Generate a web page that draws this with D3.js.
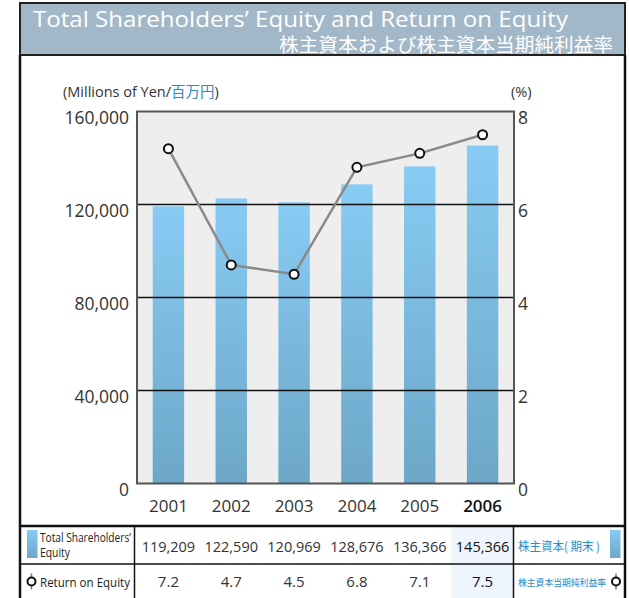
<!DOCTYPE html>
<html>
<head>
<meta charset="utf-8">
<script src="https://cdn.jsdelivr.net/npm/d3@7"></script>
<style>
  body { margin: 0; background: #fff; }
  text { font-family: "Open Sans", "Noto Sans", sans-serif; }
</style>
</head>
<body>
<svg id="chart" width="629" height="598"></svg>
<script>
const years = ["2001", "2002", "2003", "2004", "2005", "2006"];
const equity = [119209, 122590, 120969, 128676, 136366, 145366];
const roe = [7.2, 4.7, 4.5, 6.8, 7.1, 7.5];
const leftTicks = [0, 40000, 80000, 120000, 160000];
const rightTicks = [0, 2, 4, 6, 8];

const svg = d3.select("#chart");
const CJK = "'Noto Sans CJK JP', 'Noto Sans', sans-serif";
const BLUE_TEXT = "#2b8bc6";

// gradient for the bars and the legend swatches
const defs = svg.append("defs");
const grad = defs.append("linearGradient").attr("id", "barGrad")
    .attr("x1", 0).attr("y1", 0).attr("x2", 0).attr("y2", 1);
grad.append("stop").attr("offset", "0%").attr("stop-color", "#88cbf3");
grad.append("stop").attr("offset", "100%").attr("stop-color", "#6ca7c8");

// title band
svg.append("rect").attr("x", 20).attr("y", 3).attr("width", 605).attr("height", 52)
    .attr("fill", "#a2b8c8").attr("stroke", "#222").attr("stroke-width", 2);
svg.append("text").attr("x", 33).attr("y", 27)
    .attr("fill", "#fff").attr("font-size", 22)
    .attr("textLength", 535).attr("lengthAdjust", "spacingAndGlyphs")
    .text("Total Shareholders\u2019 Equity and Return on Equity");
svg.append("text").attr("x", 613).attr("y", 51.5).attr("text-anchor", "end")
    .attr("fill", "#fff").attr("font-size", 19).style("font-family", CJK)
    .attr("textLength", 334).attr("lengthAdjust", "spacingAndGlyphs")
    .text("株主資本および株主資本当期純利益率");

// outer frame
svg.append("line").attr("x1", 20).attr("x2", 20).attr("y1", 55).attr("y2", 598).attr("stroke", "#111").attr("stroke-width", 2.5);
svg.append("line").attr("x1", 625).attr("x2", 625).attr("y1", 55).attr("y2", 598).attr("stroke", "#111").attr("stroke-width", 2.5);

// scales
const x = d3.scaleBand().domain(years).range([137, 514]).paddingInner(0.5).paddingOuter(0.25);
const y = d3.scaleLinear().domain([0, 160000]).range([483.5, 111.5]);
const yR = d3.scaleLinear().domain([0, 8]).range([483.5, 111.5]);
const cx = d => x(d) + x.bandwidth() / 2;

// plot background
svg.append("rect").attr("x", 137).attr("y", 111.5).attr("width", 377).attr("height", 372)
    .attr("fill", "#eeeeee");

// bars
svg.append("g").selectAll("rect").data(years).join("rect")
    .attr("x", d => x(d))
    .attr("width", x.bandwidth())
    .attr("y", (d, i) => y(equity[i]))
    .attr("height", (d, i) => y(0) - y(equity[i]))
    .attr("fill", "url(#barGrad)");

// gridlines
svg.append("g").selectAll("line").data(leftTicks.slice(1, -1)).join("line")
    .attr("x1", 137).attr("x2", 514)
    .attr("y1", d => y(d)).attr("y2", d => y(d))
    .attr("stroke", "#111").attr("stroke-width", 1.5);

// plot border
svg.append("rect").attr("x", 137).attr("y", 111.5).attr("width", 377).attr("height", 372)
    .attr("fill", "none").attr("stroke", "#555").attr("stroke-width", 2);

// left axis (labels hang just below their gridline, like the original)
const leftAxis = svg.append("g").attr("transform", "translate(137,0)")
    .call(d3.axisLeft(y).tickValues(leftTicks).tickSize(0).tickPadding(8).tickFormat(d3.format(",")));
leftAxis.select(".domain").remove();
leftAxis.selectAll("text").attr("font-size", 17.5).attr("fill", "#333").attr("dy", "0.69em")
    .style("font-family", "'Open Sans', sans-serif");

// right axis
const rightAxis = svg.append("g").attr("transform", "translate(514,0)")
    .call(d3.axisRight(yR).tickValues(rightTicks).tickSize(0).tickPadding(4).tickFormat(d3.format("d")));
rightAxis.select(".domain").remove();
rightAxis.selectAll("text").attr("font-size", 17.5).attr("fill", "#333").attr("dy", "0.69em")
    .style("font-family", "'Open Sans', sans-serif");

// x axis labels
const xAxis = svg.append("g").attr("transform", "translate(0,483.5)")
    .call(d3.axisBottom(x).tickSize(0).tickPadding(16));
xAxis.select(".domain").remove();
xAxis.selectAll("text").attr("font-size", 17).attr("fill", "#333")
    .style("font-family", "'Open Sans', sans-serif")
    .attr("font-weight", d => d === "2006" ? 600 : null)
    .attr("fill", d => d === "2006" ? "#111" : "#333");

// unit labels
const unit = svg.append("text").attr("x", 63).attr("y", 96.5).attr("font-size", 14.5).attr("fill", "#333");
unit.append("tspan").text("(Millions of Yen/");
unit.append("tspan").attr("fill", BLUE_TEXT).style("font-family", CJK).text("百万円");
unit.append("tspan").text(")");
svg.append("text").attr("x", 511).attr("y", 96.5).attr("font-size", 14.5).attr("fill", "#333").text("(%)");

// ROE line
const line = d3.line().x((d, i) => cx(years[i])).y(d => yR(d));
svg.append("path").datum(roe).attr("d", line)
    .attr("fill", "none").attr("stroke", "#8a8a8a").attr("stroke-width", 2.5);
svg.append("g").selectAll("circle").data(roe).join("circle")
    .attr("cx", (d, i) => cx(years[i])).attr("cy", d => yR(d)).attr("r", 4.5)
    .attr("fill", "#fff").attr("stroke", "#111").attr("stroke-width", 2);

// table
const tTop = 526, tMid = 564, tBot = 598;
const hiX = x("2006") - x.step() * 0.25;
svg.append("rect").attr("x", hiX).attr("y", tTop).attr("width", 513.5 - hiX).attr("height", tBot - tTop)
    .attr("fill", "#eef5fc");
svg.append("line").attr("x1", 20).attr("x2", 625).attr("y1", tTop).attr("y2", tTop).attr("stroke", "#111").attr("stroke-width", 2.5);
svg.append("line").attr("x1", 20).attr("x2", 625).attr("y1", tMid).attr("y2", tMid).attr("stroke", "#111").attr("stroke-width", 1.5);
svg.append("line").attr("x1", 134.5).attr("x2", 134.5).attr("y1", tTop).attr("y2", tBot).attr("stroke", "#111").attr("stroke-width", 1.5);
svg.append("line").attr("x1", 513.5).attr("x2", 513.5).attr("y1", tTop).attr("y2", tBot).attr("stroke", "#111").attr("stroke-width", 1.5);

// legend row 1
svg.append("rect").attr("x", 27).attr("y", 530).attr("width", 10.5).attr("height", 28).attr("fill", "url(#barGrad)");
svg.append("text").attr("x", 40).attr("y", 541.5).attr("font-size", 12).attr("fill", "#222")
    .attr("textLength", 91).attr("lengthAdjust", "spacingAndGlyphs").text("Total Shareholders\u2019");
svg.append("text").attr("x", 40).attr("y", 557).attr("font-size", 12).attr("fill", "#222")
    .attr("textLength", 30).attr("lengthAdjust", "spacingAndGlyphs").text("Equity");
svg.append("rect").attr("x", 610).attr("y", 530).attr("width", 10.5).attr("height", 28).attr("fill", "url(#barGrad)");
svg.append("text").attr("x", 518).attr("y", 551).attr("font-size", 12.5).attr("fill", BLUE_TEXT)
    .style("font-family", CJK).attr("textLength", 82).attr("lengthAdjust", "spacingAndGlyphs").text("株主資本( 期末 )");

// legend row 2
function marker(mx, my) {
    svg.append("line").attr("x1", mx).attr("x2", mx).attr("y1", my - 8).attr("y2", my + 8)
        .attr("stroke", "#777").attr("stroke-width", 1.5);
    svg.append("circle").attr("cx", mx).attr("cy", my).attr("r", 4)
        .attr("fill", "#fff").attr("stroke", "#111").attr("stroke-width", 2);
}
marker(31.5, 581.5);
marker(616, 581.5);
svg.append("text").attr("x", 40).attr("y", 587).attr("font-size", 13).attr("fill", "#222")
    .attr("textLength", 90).attr("lengthAdjust", "spacingAndGlyphs").text("Return on Equity");
svg.append("text").attr("x", 518).attr("y", 586).attr("font-size", 9.5).attr("fill", BLUE_TEXT)
    .style("font-family", CJK).attr("textLength", 88).attr("lengthAdjust", "spacingAndGlyphs").text("株主資本当期純利益率");

// table values
svg.append("g").selectAll("text").data(equity).join("text")
    .attr("x", (d, i) => cx(years[i])).attr("y", 551.5).attr("text-anchor", "middle")
    .attr("font-size", 14.5).attr("fill", (d, i) => i === 5 ? "#111" : "#333")
    .text(d => d3.format(",")(d));
svg.append("g").selectAll("text").data(roe).join("text")
    .attr("x", (d, i) => cx(years[i])).attr("y", 587).attr("text-anchor", "middle")
    .attr("font-size", 15).attr("fill", (d, i) => i === 5 ? "#111" : "#333")
    .text(d => d3.format(".1f")(d));
</script>
</body>
</html>
